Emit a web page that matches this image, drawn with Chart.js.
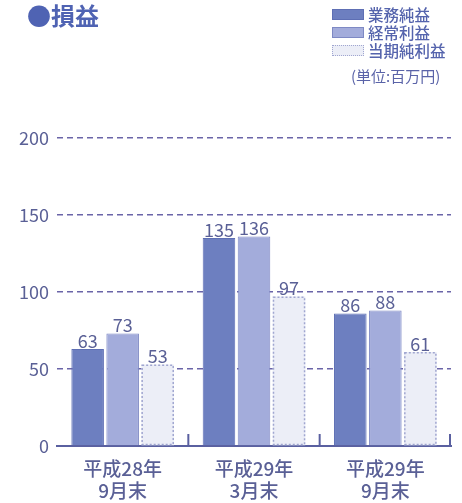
<!DOCTYPE html>
<html>
<head>
<meta charset="utf-8">
<script src="https://cdn.jsdelivr.net/npm/chart.js@4.4.1/dist/chart.umd.min.js"></script>
<style>
  html, body { margin: 0; padding: 0; background: #fff; }
  #wrap { position: relative; width: 462px; height: 503px; font-family: "Noto Sans CJK JP", sans-serif; }
  #title { position: absolute; left: 27px; top: -3px; font-size: 24px; font-weight: bold; color: #4f63b3; }
  #legend { position: absolute; left: 332px; top: 5px; }
  .row { display: flex; align-items: center; height: 18px; font-size: 15.5px; font-weight: 500; color: #5564ad; }
  .box { width: 32px; height: 11px; margin-right: 4px; box-sizing: border-box; }
  #unit { position: absolute; left: 351px; top: 65px; font-size: 15px; color: #5a63a8; }
  canvas { position: absolute; left: 0; top: 0; }
</style>
</head>
<body>
<div id="wrap">
  <canvas id="c" width="462" height="503"></canvas>
  <div id="title">●損益</div>
  <div id="legend"></div>
  <div id="unit">(単位:百万円)</div>
</div>
<script>
// data (百万円)
const categories = [["平成28年", "9月末"], ["平成29年", "3月末"], ["平成29年", "9月末"]];
const seriesNames = ["業務純益", "経常利益", "当期純利益"];
const gyomu   = [63, 135, 86];
const keijo   = [73, 136, 88];
const touki   = [53, 97, 61];
const yTicks  = [0, 50, 100, 150, 200];

const fills   = ["#6d7fc0", "#a3acdb", "#eceef7"];
const borders = ["#5e6fb4", "#7e89c4", "#a0a6d0"];
const textCol = "#5a6096";

// legend boxes (HTML, same colours as the bars)
const legend = document.getElementById("legend");
seriesNames.forEach((name, i) => {
  const row = document.createElement("div");
  row.className = "row";
  const box = document.createElement("span");
  box.className = "box";
  box.style.background = fills[i];
  box.style.border = i === 2 ? "1px dotted " + borders[i] : "1px solid " + borders[i];
  row.appendChild(box);
  row.appendChild(document.createTextNode(name));
  legend.appendChild(row);
});

// value labels + dotted outline for the 3rd series + tick marks on the base line
const extras = {
  id: "extras",
  afterDatasetsDraw(chart) {
    const ctx = chart.ctx;
    const area = chart.chartArea;
    // dotted border for 当期純利益
    const meta2 = chart.getDatasetMeta(2);
    ctx.save();
    ctx.strokeStyle = borders[2];
    ctx.lineWidth = 1.5;
    ctx.setLineDash([2, 2]);
    meta2.data.forEach(b => {
      const x0 = b.x - b.width / 2;
      ctx.strokeRect(x0 + 0.75, b.y + 0.75, b.width - 1.5, b.base - b.y - 1.5);
    });
    ctx.restore();

    // numbers above bars
    ctx.save();
    ctx.font = "18px 'Noto Sans CJK JP'";
    ctx.fillStyle = textCol;
    ctx.textAlign = "center";
    ctx.textBaseline = "bottom";
    chart.data.datasets.forEach((ds, di) => {
      chart.getDatasetMeta(di).data.forEach((b, i) => {
        ctx.fillText(String(ds.data[i]), b.x, b.y + 1);
      });
    });
    ctx.restore();

    // small upward ticks at category boundaries
    const xs = chart.scales.x;
    const yBase = chart.scales.y.getPixelForValue(0);
    ctx.save();
    ctx.strokeStyle = "#5a60a0";
    ctx.lineWidth = 2;
    ctx.beginPath();
    for (let i = 0; i < categories.length; i++) {
      const px = i < categories.length - 1
        ? (xs.getPixelForValue(i) + xs.getPixelForValue(i + 1)) / 2
        : area.right - 1;
      ctx.moveTo(px, yBase);
      ctx.lineTo(px, yBase - 12);
    }
    ctx.stroke();
    ctx.restore();
  }
};

new Chart(document.getElementById("c"), {
  type: "bar",
  data: {
    labels: categories,
    datasets: [gyomu, keijo, touki].map((d, i) => ({
      label: seriesNames[i],
      data: d,
      backgroundColor: fills[i],
      borderColor: i === 2 ? "rgba(0,0,0,0)" : borders[i],
      borderWidth: i === 2 ? 0 : 1,
      barPercentage: 0.93,
      categoryPercentage: 0.8
    }))
  },
  options: {
    responsive: false,
    animation: false,
    layout: { padding: { top: 138, left: 12, right: 11, bottom: 0 } },
    plugins: { legend: { display: false }, tooltip: { enabled: false } },
    scales: {
      x: {
        grid: { display: false },
        border: { display: true, color: "#5a60a0", width: 2 },
        ticks: {
          color: textCol,
          padding: 4,
          font: { family: "'Noto Sans CJK JP'", size: 19, weight: "500", lineHeight: 1.16 }
        },
        afterFit(s) { s.height = 57; }
      },
      y: {
        min: 0,
        max: 200,
        afterBuildTicks(s) { s.ticks = yTicks.map(v => ({ value: v })); },
        border: { display: false, dash: [6, 4] },
        grid: {
          color: ctx => ctx.tick.value === 0 ? "rgba(0,0,0,0)" : "#6a64a8",
          lineWidth: 1.5,
          drawTicks: false
        },
        ticks: {
          color: textCol,
          padding: 8,
          font: { family: "'Noto Sans CJK JP'", size: 18 }
        },
        afterFit(s) { s.width = 45; }
      }
    }
  },
  plugins: [extras]
});
</script>
</body>
</html>
